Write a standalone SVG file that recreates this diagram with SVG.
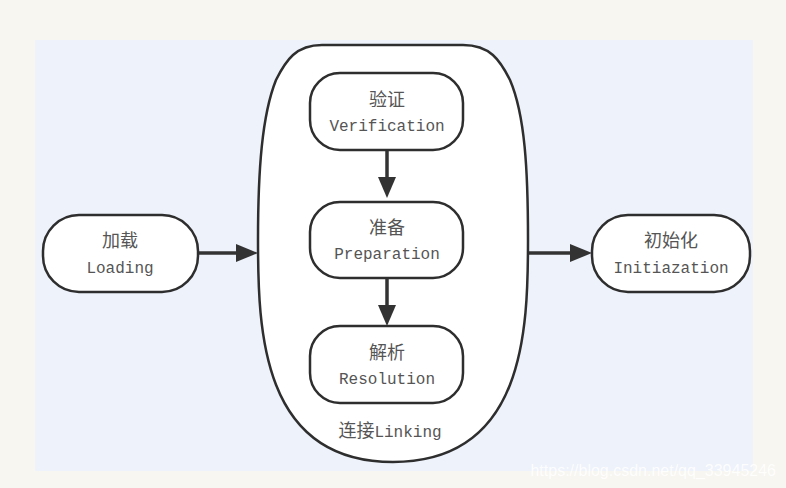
<svg xmlns="http://www.w3.org/2000/svg" width="786" height="488" viewBox="0 0 786 488">
<defs>
<style>
.box{fill:#fff;stroke:#2e2e2e;stroke-width:2.5}
.cn{font-family:"Liberation Mono","Noto Sans CJK SC",monospace;font-size:18px;fill:#555;text-anchor:middle}
.en{font-family:"Liberation Mono","Noto Sans CJK SC",monospace;font-size:16px;fill:#555;text-anchor:middle}
.edge{stroke:#333;stroke-width:3.5;fill:none}
</style>
</defs>
<rect x="0" y="0" width="786" height="488" fill="#f8f6f0"/>
<rect x="35" y="40" width="718" height="431" fill="#edf2fb"/>
<g id="linking">
<path class="box" d="M322,45 L463,45 C490,45 500,60 510,80 C525,115 528,170 528,240 C528,330 525,462 393,462 C261,462 258,330 258,240 C258,170 262,115 276,80 C286,60 296,45 322,45 Z"/>
<text class="cn" x="390" y="437">连接<tspan font-size="16">Linking</tspan></text>
</g>
<g id="loading">
<rect class="box" x="43" y="215" width="155" height="77" rx="36"/>
<text class="cn" x="120" y="247">加载</text>
<text class="en" x="120" y="273">Loading</text>
</g>
<g id="verification">
<rect class="box" x="310" y="73" width="153" height="77" rx="30"/>
<text class="cn" x="387" y="106">验证</text>
<text class="en" x="387" y="131">Verification</text>
</g>
<g id="preparation">
<rect class="box" x="310" y="202" width="153" height="76" rx="30"/>
<text class="cn" x="387" y="234">准备</text>
<text class="en" x="387" y="259">Preparation</text>
</g>
<g id="resolution">
<rect class="box" x="310" y="326" width="153" height="77" rx="30"/>
<text class="cn" x="387" y="359">解析</text>
<text class="en" x="387" y="384">Resolution</text>
</g>
<g id="initialization">
<rect class="box" x="592" y="215" width="158" height="77" rx="36"/>
<text class="cn" x="671" y="247">初始化</text>
<text class="en" x="671" y="273">Initiazation</text>
</g>
<g id="connectors">
<line class="edge" x1="199" y1="253" x2="238" y2="253"/>
<path d="M236,244 L258,253 L236,262 Z" fill="#333"/>
<line class="edge" x1="529" y1="253" x2="572" y2="253"/>
<path d="M570,244 L592,253 L570,262 Z" fill="#333"/>
<line class="edge" x1="387" y1="151" x2="387" y2="180"/>
<path d="M378,177 L387,198 L396,177 Z" fill="#333"/>
<line class="edge" x1="387" y1="279" x2="387" y2="308"/>
<path d="M378,305 L387,326 L396,305 Z" fill="#333"/>
</g>
<text x="776" y="476" font-family="Liberation Sans, sans-serif" font-size="16" fill="#ffffff" text-anchor="end" opacity="0.9">https://blog.csdn.net/qq_33945246</text>
</svg>
